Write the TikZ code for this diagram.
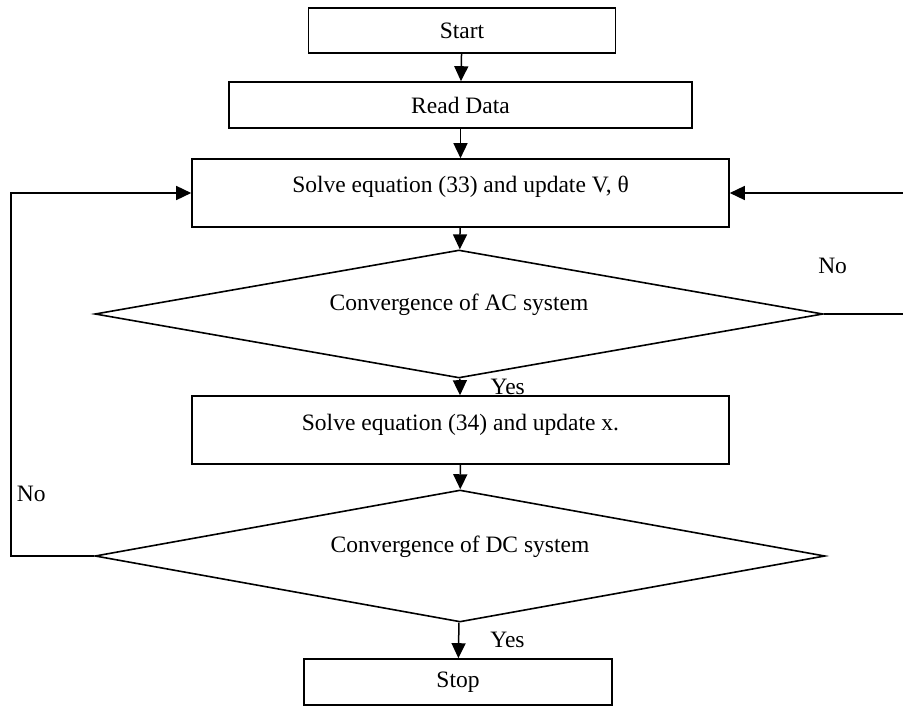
\documentclass[tikz,border=0pt]{standalone}
\usepackage{fontspec}
\setmainfont{Liberation Serif}
\usetikzlibrary{arrows.meta,positioning,shapes.geometric}
\tikzset{
  flowbox/.style={draw,line width=1.6pt,minimum height=46pt,inner sep=0pt},
  solvebox/.style={flowbox,minimum width=537pt,minimum height=68pt,text height=18pt,text depth=18pt},
  testdiam/.style={draw,diamond,line width=1.6pt,inner sep=0pt,text height=12pt,text depth=20pt},
  flowarr/.style={-{Triangle[length=15pt,width=14pt]},line width=1.5pt},
  flowline/.style={line width=1.5pt},
  flowlbl/.style={inner sep=0pt}
}
\begin{document}
\begin{tikzpicture}[x=1pt,y=-1pt,font=\fontsize{23.5}{28}\selectfont]
\useasboundingbox (0,0) rectangle (903,706);
% boxes and tests
\node[flowbox,minimum width=307pt,minimum height=45pt] (start) at (462,30.5) {Start};
\node[flowbox,minimum width=463pt] (read) at (460.5,105) {Read Data};
\node[solvebox] (solveac) at (460.5,193) {Solve equation (33) and update V, θ};
\node[testdiam,aspect=5.6875,minimum width=728pt,minimum height=128pt] (acconv) at (459,314) {Convergence of AC system};
\node[solvebox] (solvedc) at (460.5,430) {Solve equation (34) and update x.};
\node[testdiam,aspect=5.53,minimum width=730pt,minimum height=132pt] (dcconv) at (460,556) {Convergence of DC system};
\node[flowbox,minimum width=308pt] (stop) at (458,682) {Stop};
% main flow
\draw[flowarr] (start) -- (read);
\draw[flowarr] (read) -- (solveac);
\draw[flowarr] (solveac) -- (acconv);
\draw[flowarr] (acconv) -- node[flowlbl,right=30pt]{Yes} (solvedc);
\draw[flowarr] (solvedc) -- (dcconv);
\draw[flowarr] (dcconv) -- node[flowlbl,right=31pt]{Yes} (stop);
% loops back
\draw[flowarr] (dcconv.west) -- ++(-83,0) |- node[flowlbl,pos=0.085,right=5pt]{No} (solveac.west);
\coordinate (acout) at (904,314);
\coordinate (acback) at (904,193);
\draw[flowline] (acconv.east) -- node[flowlbl,pos=0.11,above=40pt]{No} (acout);
\draw[flowarr] (acback) -- (solveac.east);
\end{tikzpicture}
\end{document}
